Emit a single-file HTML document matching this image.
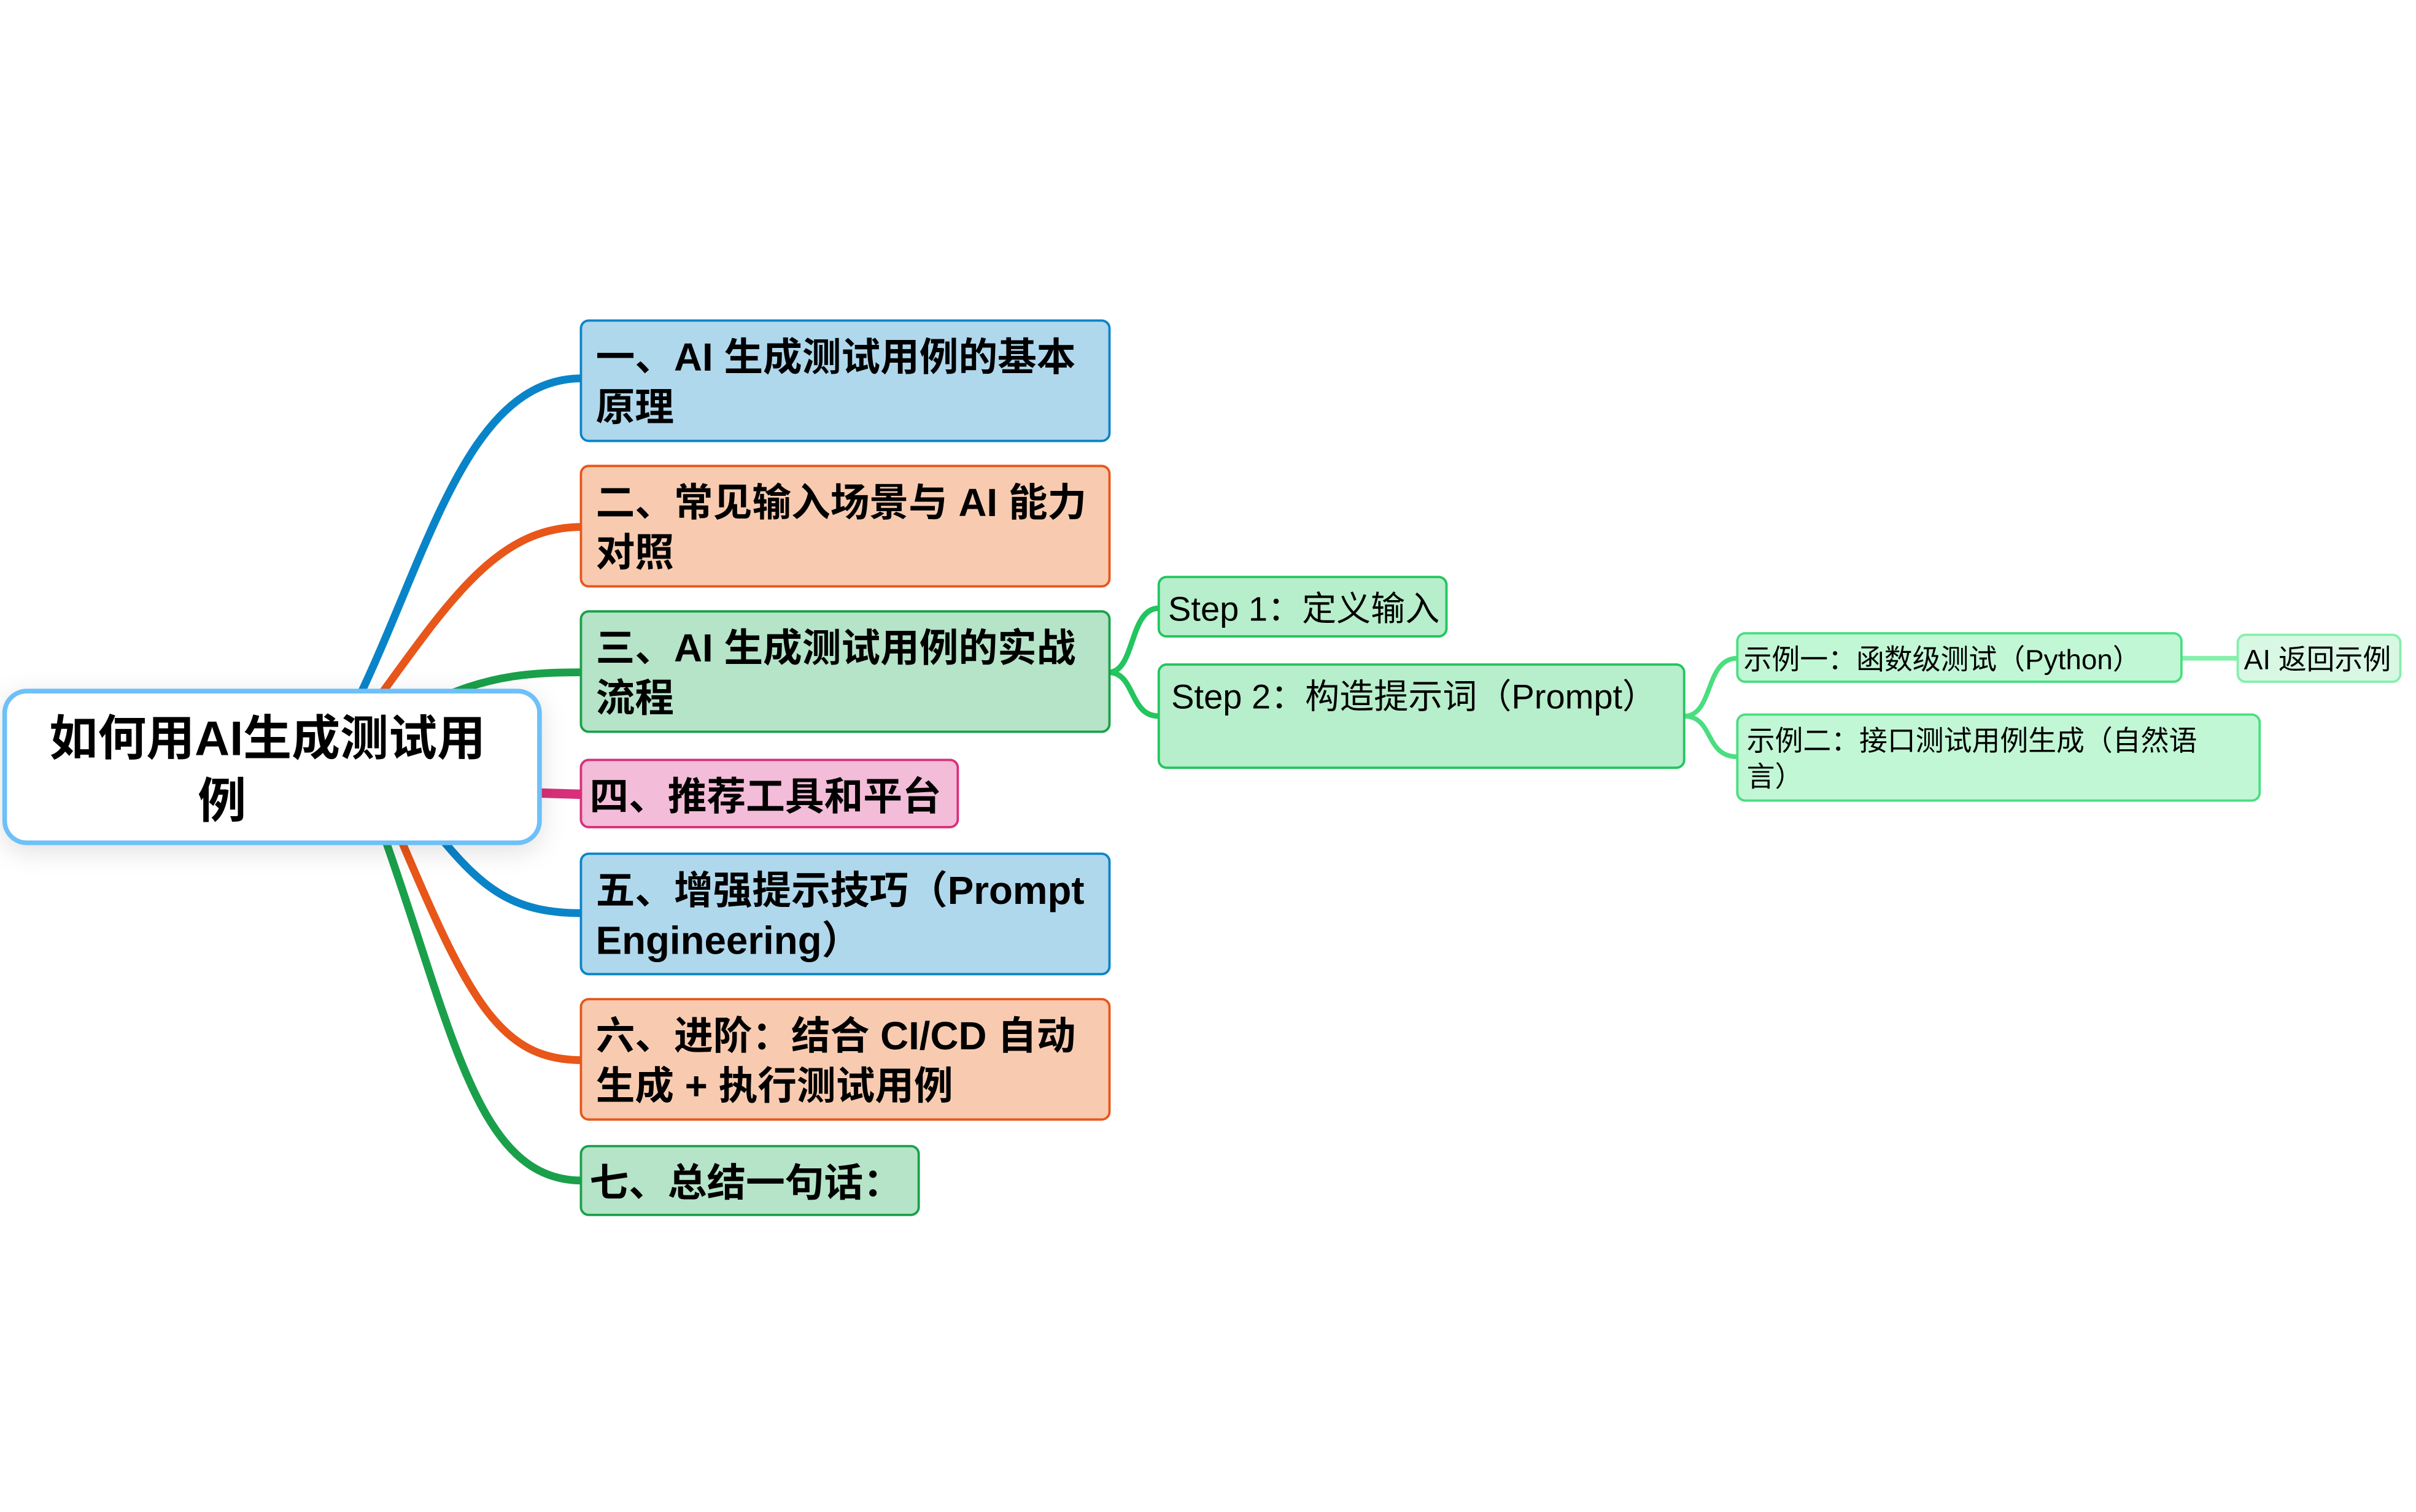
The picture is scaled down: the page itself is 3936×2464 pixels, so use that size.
<!DOCTYPE html>
<html><head><meta charset="utf-8"><style>
html,body{margin:0;padding:0;background:#fff;}
svg{display:block;}
text{font-family:"Liberation Sans","Noto Sans CJK SC",sans-serif;fill:#000;}
.b{font-weight:bold;font-size:25px;}
.s{font-size:22px;}
.x{font-size:18px;}
</style></head><body>
<svg width="3936" height="2464" viewBox="0 0 1545 967" preserveAspectRatio="none" xmlns="http://www.w3.org/2000/svg">
<defs>
<filter id="sh" x="-20%" y="-30%" width="140%" height="160%"><feDropShadow dx="0" dy="4" stdDeviation="8" flood-color="#000" flood-opacity="0.12"/></filter>
</defs>
<g fill="none" stroke-linecap="round">
<path d="M230,445 C275,350 300,242 372,242" stroke="#0a84c8" stroke-width="5"/>
<path d="M243,445 C290,380 320,337 372,337" stroke="#e8561a" stroke-width="5"/>
<path d="M285,445 C315,432 340,430 372,430" stroke="#1aa04a" stroke-width="5"/>
<path d="M340,507 L372,508" stroke="#d8307a" stroke-width="6"/>
<path d="M282,536 C310,570 330,584 372,584" stroke="#0a84c8" stroke-width="5"/>
<path d="M256,536 C300,640 320,678 372,678" stroke="#e8561a" stroke-width="5"/>
<path d="M246,536 C290,660 305,755 372,755" stroke="#1aa04a" stroke-width="5"/>
<path d="M709,430 C726,430 722,389 741,389" stroke="#22c55e" stroke-width="3.5"/>
<path d="M709,430 C726,430 722,458 741,458" stroke="#22c55e" stroke-width="3.5"/>
<path d="M1077,458 C1096,458 1090,421 1111,421" stroke="#4ade80" stroke-width="3"/>
<path d="M1077,458 C1096,458 1090,484 1111,484" stroke="#4ade80" stroke-width="3"/>
<path d="M1395,421 L1431,421" stroke="#86efac" stroke-width="3"/>
</g>
<rect x="3" y="442" width="342" height="97" rx="14" fill="#fff" stroke="#6ec0f8" stroke-width="3" filter="url(#sh)"/>
<text x="171" y="483" text-anchor="middle" style="font-weight:bold;font-size:31px">如何用AI生成测试用</text>
<text x="142" y="523" text-anchor="middle" style="font-weight:bold;font-size:31px">例</text>

<rect x="371.5" y="205" width="338" height="77" rx="5" fill="#b0d8ec" stroke="#0a84c8" stroke-width="1.5"/>
<text class="b" x="381" y="237">一、AI 生成测试用例的基本</text><text class="b" x="381" y="269">原理</text>
<rect x="371.5" y="298" width="338" height="77" rx="5" fill="#f8cbb0" stroke="#e8561a" stroke-width="1.5"/>
<text class="b" x="381" y="330">二、常见输入场景与 AI 能力</text><text class="b" x="381" y="362">对照</text>
<rect x="371.5" y="391" width="338" height="77" rx="5" fill="#b5e4c8" stroke="#1aa04a" stroke-width="1.5"/>
<text class="b" x="381" y="423">三、AI 生成测试用例的实战</text><text class="b" x="381" y="455">流程</text>
<rect x="371.5" y="486" width="241" height="43" rx="5" fill="#f3bcd8" stroke="#d8307a" stroke-width="1.5"/>
<text class="b" x="377" y="518">四、推荐工具和平台</text>
<rect x="371.5" y="546" width="338" height="77" rx="5" fill="#b0d8ec" stroke="#0a84c8" stroke-width="1.5"/>
<text class="b" x="381" y="578">五、增强提示技巧（Prompt</text><text class="b" x="381" y="610">Engineering）</text>
<rect x="371.5" y="639" width="338" height="77" rx="5" fill="#f8cbb0" stroke="#e8561a" stroke-width="1.5"/>
<text class="b" x="381" y="671">六、进阶：结合 CI/CD 自动</text><text class="b" x="381" y="703">生成 + 执行测试用例</text>
<rect x="371.5" y="733" width="216" height="44" rx="5" fill="#b5e4c8" stroke="#1aa04a" stroke-width="1.5"/>
<text class="b" x="377" y="765">七、总结一句话：</text>

<rect x="741" y="369" width="184" height="38" rx="5" fill="#b7eecb" stroke="#22c55e" stroke-width="1.5"/>
<text class="s" x="747" y="397">Step 1：定义输入</text>
<rect x="741" y="425" width="336" height="66" rx="5" fill="#b7eecb" stroke="#22c55e" stroke-width="1.5"/>
<text class="s" x="749" y="453">Step 2：构造提示词（Prompt）</text>
<rect x="1111" y="405" width="284" height="31" rx="5" fill="#c2f7d6" stroke="#4ade80" stroke-width="1.5"/>
<text class="x" x="1115" y="428">示例一：函数级测试（Python）</text>
<rect x="1431" y="406" width="104" height="30" rx="5" fill="#d8f8e4" stroke="#86efac" stroke-width="1.5"/>
<text class="x" x="1435" y="428">AI 返回示例</text>
<rect x="1111" y="457" width="334" height="55" rx="5" fill="#c2f7d6" stroke="#4ade80" stroke-width="1.5"/>
<text class="x" x="1117" y="480">示例二：接口测试用例生成（自然语</text>
<text class="x" x="1117" y="503">言）</text>
</svg>
</body></html>
